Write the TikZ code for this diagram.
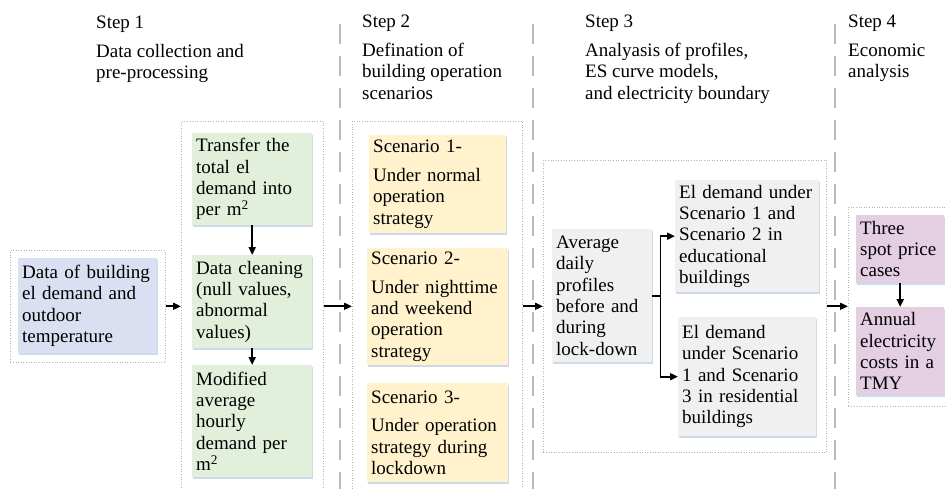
\documentclass[tikz,border=0pt]{standalone}
\usepackage{fontspec}
\setmainfont{Liberation Serif}
\usepackage{tikz}
\usetikzlibrary{arrows.meta,shadows}
\definecolor{stepblue}{RGB}{218,224,242}
\definecolor{stepgreen}{RGB}{226,239,218}
\definecolor{stepyellow}{RGB}{255,242,204}
\definecolor{stepgray}{RGB}{240,240,240}
\definecolor{steppurple}{RGB}{228,206,226}
\definecolor{stepshade}{RGB}{205,218,236}

\begin{document}
\begin{tikzpicture}[x=1pt,y=-1pt,
  every node/.style={font=\rmfamily\fontsize{19}{21.3}\selectfont},
  head/.style={anchor=north west,align=left,inner sep=0pt},
  box/.style={anchor=north west,align=left,inner xsep=4pt,inner ysep=2pt,
    drop shadow={shadow xshift=1.2pt,shadow yshift=-1.5pt,fill=stepshade,opacity=1}},
  frame/.style={anchor=north west,draw=gray!60,dotted,line width=0.6pt,inner sep=0pt},
  arr/.style={-{Triangle[length=8pt,width=7pt]},line width=1.8pt}]
  \useasboundingbox (0,0) rectangle (947,489);
  \foreach \x in {340,533,835} { \draw[gray!55,line width=1.6pt,dash pattern=on 20pt off 12pt](\x,24)--(\x,489); }
  \node[head] (h1) at (96,16) {Step 1\\[7.5pt]Data collection and\\pre-processing};
  \node[head] (h2) at (362,15) {Step 2\\[7.5pt]Defination of\\building operation\\scenarios};
  \node[head] (h3) at (585,15) {Step 3\\[7.5pt]Analyasis of profiles,\\ES curve models,\\and electricity boundary};
  \node[head] (h4) at (848,15) {Step 4\\[7.5pt]Economic\\analysis};

  \node[frame,minimum width=155pt,minimum height=112pt] (f0) at (10,250) {};
  \node[frame,minimum width=142pt,minimum height=380pt] (f1) at (181,121) {};
  \node[frame,minimum width=170pt,minimum height=380pt] (f2) at (352,121) {};
  \node[frame,minimum width=283pt,minimum height=292pt] (f3) at (543,160) {};
  \node[frame,minimum width=110pt,minimum height=199pt] (f4) at (848,207) {};

  \node[box,fill=stepblue,text width=131pt,minimum height=95pt] (raw) at (18,258) {Data of building\\el demand and\\outdoor\\temperature};
  \node[box,fill=stepgreen,text width=112pt,minimum height=92pt] (trans) at (192,133) {Transfer the\\total el\\demand into\\per m\textsuperscript{2}};
  \node[box,fill=stepgreen,text width=112pt,minimum height=93pt] (clean) at (192,255) {Data cleaning\\(null values,\\abnormal\\values)};
  \node[box,fill=stepgreen,text width=112pt,minimum height=112pt] (modif) at (192,365) {Modified\\average\\hourly\\demand per\\m\textsuperscript{2}};
  \node[box,fill=stepyellow,text width=129pt,minimum height=98pt] (sc1) at (369,135) {Scenario 1-\\[7.5pt]Under normal\\operation\\strategy};
  \node[box,fill=stepyellow,text width=133pt,minimum height=117pt] (sc2) at (367,248) {Scenario 2-\\[7.5pt]Under nighttime\\and weekend\\operation\\strategy};
  \node[box,fill=stepyellow,text width=133pt,minimum height=99pt] (sc3) at (367,383) {Scenario 3-\\[7.5pt]Under operation\\strategy during\\lockdown};
  \node[box,fill=stepgray,text width=92pt,minimum height=133pt] (avg) at (552,229) {Average\\daily\\profiles\\before and\\during\\lock-down};
  \node[box,fill=stepgray,text width=136pt,minimum height=112pt] (el1) at (675,180) {El demand under\\Scenario 1 and\\Scenario 2 in\\educational\\buildings};
  \node[box,fill=stepgray,text width=130pt,minimum height=119pt] (el2) at (678,317) {El demand\\under Scenario\\1 and Scenario\\3 in residential\\buildings};
  \node[box,fill=steppurple,text width=80pt,minimum height=68pt] (spot) at (856,215) {Three\\spot price\\cases};
  \node[box,fill=steppurple,text width=80pt,minimum height=88pt] (cost) at (856,307) {Annual\\electricity\\costs in a\\TMY};

  \draw[arr] (f0.east)--(f1.west |- f0.east);
  \draw[arr] (f1.east |- f0.east)--(f2.west |- f0.east);
  \draw[arr] (f2.east |- f0.east)--(f3.west |- f0.east);
  \draw[arr] (f3.east |- f0.east)--(f4.west |- f0.east);
  \draw[arr] (trans)--(clean);
  \draw[arr] (clean)--(modif);
  \draw[line width=1.8pt] (avg.east)--++(8,0) coordinate (br);
  \draw[arr] (br)|-(el1.west);
  \draw[arr] (br)|-(el2.west);
  \draw[arr] (spot)--(cost);
\end{tikzpicture}
\end{document}
